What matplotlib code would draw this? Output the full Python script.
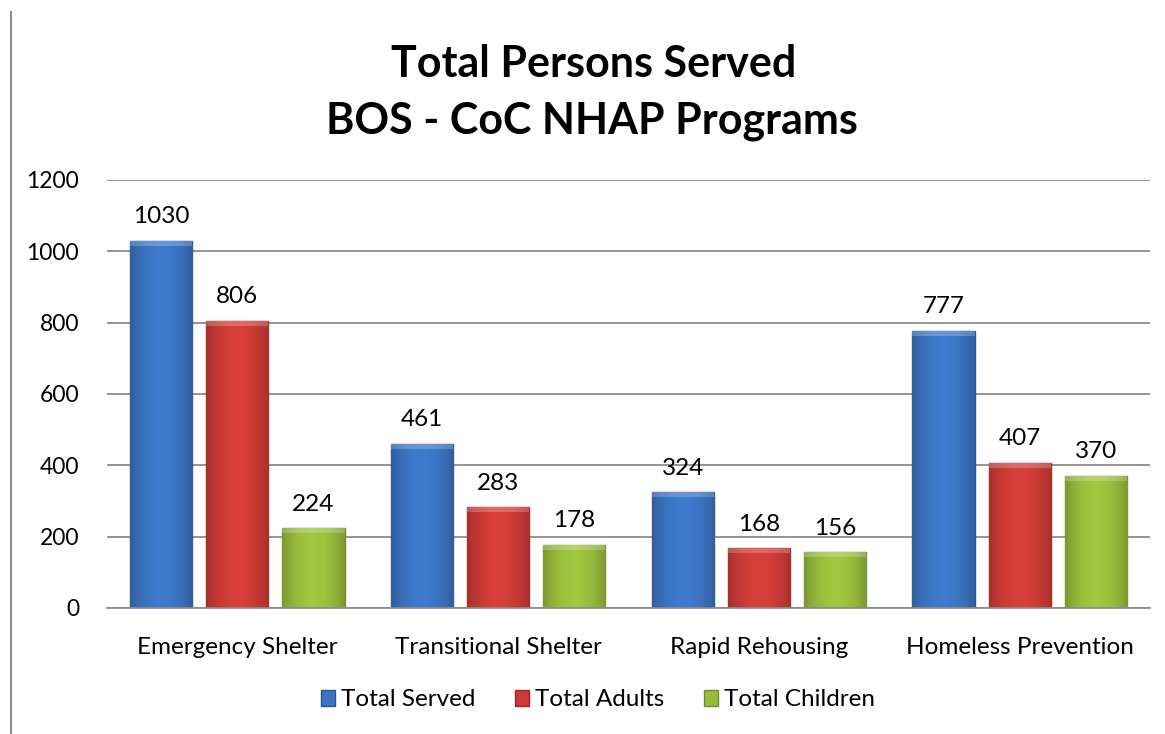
import numpy as np
import matplotlib.pyplot as plt
from matplotlib.lines import Line2D
from matplotlib.colors import to_rgb

# Data
categories = ['Emergency Shelter', 'Transitional Shelter', 'Rapid Rehousing', 'Homeless Prevention']
series_names = ['Total Served', 'Total Adults', 'Total Children']
total_served = [1030, 461, 324, 777]
total_adults = [806, 283, 168, 407]
total_children = [224, 178, 156, 370]
yticks = [0, 200, 400, 600, 800, 1000, 1200]

plt.rcParams['font.family'] = ['Lato', 'DejaVu Sans']

colors = ['#3b74c2', '#cc3b36', '#99bb3c']
edges = ['#2a568f', '#952a27', '#6f8a2a']

fig = plt.figure(figsize=(11.65, 7.34), dpi=100)
ax = fig.add_axes([107 / 1165, (734 - 608) / 734, (1150 - 107) / 1165, (608 - 180) / 734])


def shaded(c, n=40):
    # darker at the sides, lighter in the middle, like the bevelled Excel bars
    base = np.array(to_rgb(c))
    t = np.linspace(-1, 1, n)
    f = 0.82 + 0.24 * (1 - t ** 2)
    return np.clip(base[None, :] * f[:, None], 0, 1)[None, :, :]


x = np.arange(len(categories))
step = 0.292
width = 0.238
all_series = [total_served, total_adults, total_children]
for i, vals in enumerate(all_series):
    pos = x + (i - 1) * step
    bars = ax.bar(pos, vals, width, color=colors[i], edgecolor=edges[i], linewidth=1.0, zorder=3)
    for b in bars:
        x0, w, h = b.get_x(), b.get_width(), b.get_height()
        im = ax.imshow(shaded(colors[i]), extent=[x0, x0 + w, 0, h], aspect='auto', zorder=3.5)
        im.set_clip_path(b)
        # light bevel at the top
        top = min(14, h * 0.5)
        ax.fill_between([x0, x0 + w], h - top, h, color='white', alpha=0.22, lw=0, zorder=3.6)
    for p, v in zip(pos, vals):
        ax.text(p, v + 38, str(v), ha='center', va='bottom', fontsize=17.5, color='black')

ax.set_xlim(-0.5, 3.5)
ax.set_ylim(0, 1200)
ax.set_yticks(yticks)
ax.set_yticklabels([str(t) for t in yticks], fontsize=16.5)
ax.yaxis.grid(True, color='#8c8c8c', linewidth=1.3, zorder=0)
ax.tick_params(axis='y', length=0, pad=20)
ax.set_xticks(x)
ax.set_xticklabels(categories, fontsize=17.5)
ax.tick_params(axis='x', length=0, pad=21)
for s in ['top', 'right', 'left']:
    ax.spines[s].set_visible(False)
ax.spines['bottom'].set_color('#8c8c8c')
ax.spines['bottom'].set_linewidth(1.3)
ax.spines['bottom'].set_zorder(4)

fig.text(594 / 1165, 1 - 64 / 734, 'Total Persons Served', ha='center', va='center',
         fontsize=31, fontweight='bold')
fig.text(592 / 1165, 1 - 121 / 734, 'BOS - CoC NHAP Programs', ha='center', va='center',
         fontsize=31, fontweight='bold')

# partially visible caption and frame line at the left
fig.text(-2 / 1165, 1 + 10 / 734, 'Figure 1', ha='left', va='center', fontsize=17)
fig.add_artist(Line2D([11 / 1165, 11 / 1165], [0, 1 - 12 / 734], transform=fig.transFigure,
                      color='#8c8c8c', linewidth=1.5))

handles = [plt.Rectangle((0, 0), 1, 1, facecolor=colors[i], edgecolor=edges[i]) for i in range(3)]
fig.legend(handles, series_names, loc='center', bbox_to_anchor=(598 / 1165, 1 - 700 / 734),
           ncol=3, frameon=False, fontsize=17.5, handlelength=0.6, handleheight=0.6,
           handletextpad=0.25, columnspacing=1.6)

fig.savefig('out.png', dpi=100)
